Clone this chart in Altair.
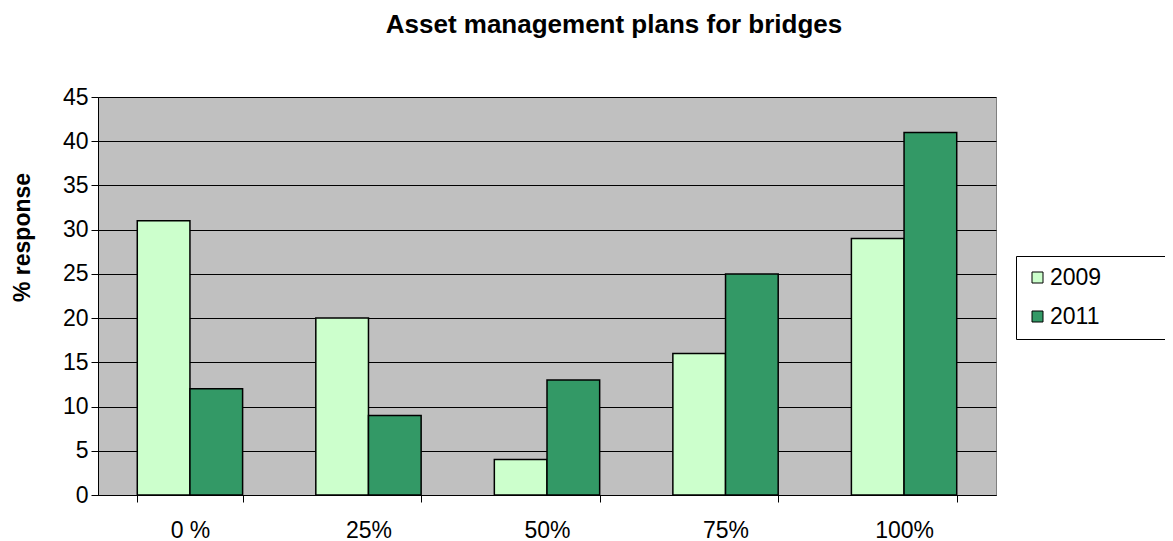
import altair as alt
import pandas as pd

categories = ["0 %", "25%", "50%", "75%", "100%"]
years = ["2009", "2011"]
values_2009 = [31, 20, 4, 16, 29]
values_2011 = [12, 9, 13, 25, 41]

rows = []
for c, a, b in zip(categories, values_2009, values_2011):
    rows.append({"cat": c, "year": "2009", "value": a})
    rows.append({"cat": c, "year": "2011", "value": b})
df = pd.DataFrame(rows)

FONT = "Liberation Sans"
FS = 23
PAD = "\u00a0" * 25 + "\u200b"

chart = alt.Chart(df).mark_bar(stroke="black", strokeWidth=1.5).encode(
    x=alt.X("cat:N", sort=categories, title=None,
            scale=alt.Scale(paddingInner=0.41, paddingOuter=0.22),
            axis=alt.Axis(labelAngle=0, labelPadding=35, labelBaseline="alphabetic",
                          tickSize=7, tickBand="extent",
                          domainColor="black", tickColor="black", grid=False,
                          labelFontSize=FS, labelFont=FONT, labelColor="black")),
    xOffset=alt.XOffset("year:N", sort=years, scale=alt.Scale(paddingInner=0, paddingOuter=0)),
    y=alt.Y("value:Q", title="% response",
            scale=alt.Scale(domain=[0, 45], nice=False),
            axis=alt.Axis(values=list(range(0, 46, 5)), tickSize=7, labelPadding=3,
                          domainColor="black", tickColor="black",
                          grid=True, gridColor="black", gridOpacity=1, gridWidth=1,
                          labelFontSize=FS, labelFont=FONT, labelColor="black",
                          titleFontSize=FS, titleFont=FONT, titleFontWeight="bold",
                          titleColor="black", titleX=-76, titleY=140, titleAngle=270,
                          titleAlign="center", titleBaseline="middle")),
    color=alt.Color("year:N", sort=years,
                    scale=alt.Scale(domain=years, range=["#CCFFCC", "#339966"]),
                    legend=alt.Legend(title=None, orient="none", legendX=918, legendY=159,
                                      symbolType="square", symbolSize=121,
                                      symbolStrokeColor="black", symbolStrokeWidth=1,
                                      labelFontSize=FS, labelFont=FONT, labelColor="black",
                                      labelOffset=1, rowPadding=15, padding=10,
                                      labelLimit=1000,
                                      strokeColor="black", fillColor="white",
                                      labelExpr="datum.label + '" + PAD + "'")),
).properties(
    width=898,
    height=398,
    autosize=alt.AutoSizeParams(type="none"),
    padding={"left": 90, "top": 89, "right": 169, "bottom": 45},
    title=alt.TitleParams("Asset management plans for bridges", font=FONT, fontSize=26,
                          fontWeight="bold", color="black", anchor="middle",
                          frame="group", dx=67, offset=48),
).configure(
    background="white"
).configure_view(
    fill="#C0C0C0", stroke="#808080", strokeWidth=1
)

chart.save("out.html", embed_options={"renderer": "svg", "actions": False})
